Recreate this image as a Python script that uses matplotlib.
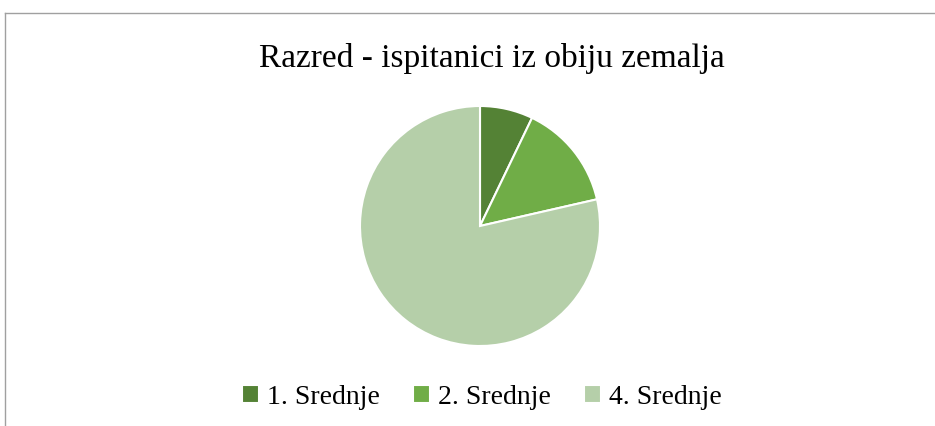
import matplotlib.pyplot as plt
from matplotlib.lines import Line2D

labels = ["1. Srednje", "2. Srednje", "4. Srednje"]
counts = [1, 2, 11]
colors = ["#548235", "#70AD47", "#B5CFA9"]
title = "Razred - ispitanici iz obiju zemalja"

plt.rcParams['font.family'] = ['Liberation Serif', 'DejaVu Serif']

W, H = 935, 427
fig = plt.figure(figsize=(W / 100, H / 100), dpi=100)

# pie centre (480, 227) px, radius 120 px
cx, cy, r = 480, 227, 120
ax = fig.add_axes([(cx - r) / W, 1 - (cy + r) / H, 2 * r / W, 2 * r / H])
wedges, _ = ax.pie(counts, colors=colors, startangle=90, counterclock=False,
                   radius=1, wedgeprops=dict(edgecolor="white", linewidth=1.5))
ax.set_xlim(-1, 1)
ax.set_ylim(-1, 1)
ax.set_aspect('equal')
ax.axis('off')

fig.text(492 / W, 1 - 58 / H, title, ha='center', va='center', fontsize=24)

fig.legend(wedges, labels, loc='center', bbox_to_anchor=(482 / W, 1 - 398 / H),
           ncol=3, frameon=False, fontsize=20, handlelength=0.6, handleheight=0.6,
           handletextpad=0.3, columnspacing=1.2)

# chart frame (cropped on right and bottom)
fig.add_artist(Line2D([4.5 / W, 4.5 / W], [0, 1 - 14 / H], transform=fig.transFigure,
                      color="#A0A0A0", linewidth=1))
fig.add_artist(Line2D([4.5 / W, 1], [1 - 14 / H, 1 - 14 / H], transform=fig.transFigure,
                      color="#A0A0A0", linewidth=1))

fig.savefig("out.png", dpi=100)
